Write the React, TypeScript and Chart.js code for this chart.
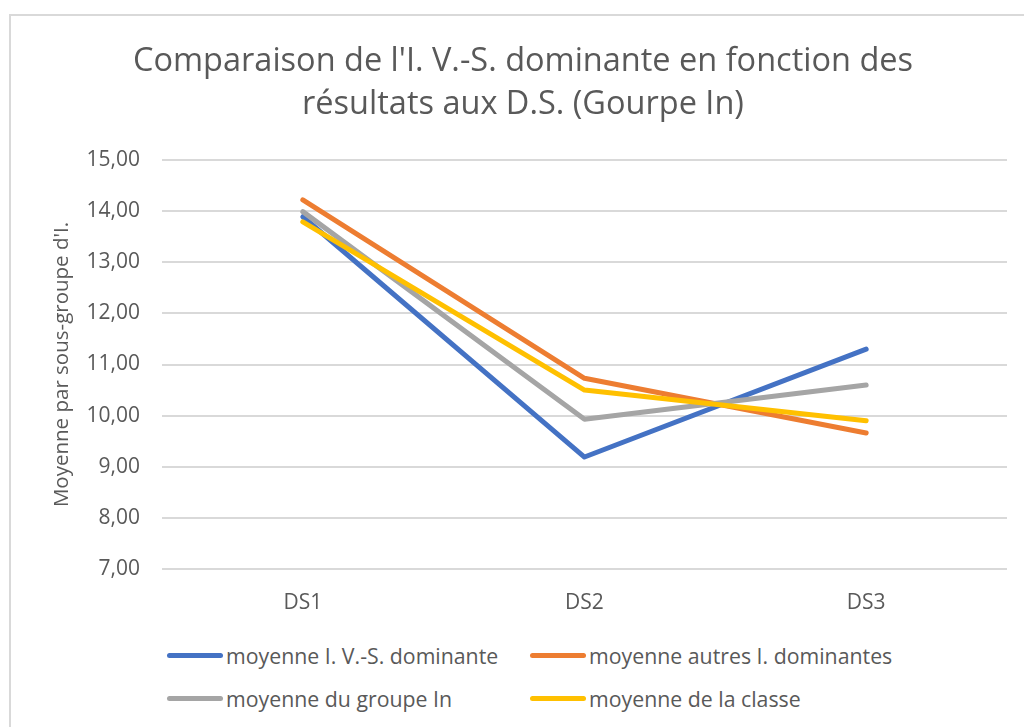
import React, { useEffect, useRef } from "react";
import { Chart, registerables } from "chart.js";

Chart.register(...registerables);

const categories = ["DS1", "DS2", "DS3"];
const seriesNames = [
  "moyenne I. V.-S. dominante",
  "moyenne autres I. dominantes",
  "moyenne du groupe In",
  "moyenne de la classe",
];
const blueValues = [13.89, 9.19, 11.3];
const orangeValues = [14.22, 10.73, 9.66];
const grayValues = [13.99, 9.93, 10.6];
const yellowValues = [13.79, 10.5, 9.9];
const seriesColors = ["#4472C4", "#ED7D31", "#A5A5A5", "#FFC000"];
const titleLines = [
  "Comparaison de l'I. V.-S. dominante en fonction des",
  "résultats aux D.S. (Gourpe In)",
];
const yAxisTitle = "Moyenne par sous-groupe d'I.";
const yMin = 7;
const yMax = 15;

const FONT = "'Open Sans', sans-serif";
const TEXT = "#595959";

export default function App() {
  const ref = useRef<HTMLCanvasElement | null>(null);

  useEffect(() => {
    if (!ref.current) return;
    const values = [blueValues, orangeValues, grayValues, yellowValues];
    const chart = new Chart(ref.current, {
      type: "line",
      data: {
        labels: categories,
        datasets: values.map((v, i) => ({
          label: seriesNames[i],
          data: v,
          borderColor: seriesColors[i],
          backgroundColor: seriesColors[i],
          borderWidth: 5,
          pointRadius: 0,
          tension: 0,
          borderCapStyle: "round" as const,
          borderJoinStyle: "round" as const,
          order: 4 - i,
        })),
      },
      options: {
        animation: false,
        responsive: false,
        layout: { padding: { left: 39, right: 17, top: 0, bottom: 0 } },
        plugins: {
          legend: { display: false },
          tooltip: { enabled: false },
          title: {
            display: true,
            text: titleLines,
            color: TEXT,
            font: { family: FONT, size: 32.5, weight: "normal", lineHeight: 1.32 },
            padding: { top: 40.5, bottom: 33.7 },
          },
        },
        scales: {
          x: {
            offset: true,
            grid: { display: false, drawTicks: false },
            border: { display: false },
            ticks: {
              color: TEXT,
              font: { family: FONT, size: 21 },
              padding: 21,
            },
            afterFit: (s: any) => {
              s.height = 61;
            },
          },
          y: {
            min: yMin,
            max: yMax,
            grid: { color: "#d9d9d9", lineWidth: 2, drawTicks: false },
            border: { display: false },
            ticks: {
              stepSize: 1,
              color: TEXT,
              font: { family: FONT, size: 21 },
              padding: 22,
              callback: (v: any) => Number(v).toFixed(2).replace(".", ","),
            },
            title: {
              display: true,
              text: yAxisTitle,
              color: TEXT,
              font: { family: FONT, size: 20.5 },
              padding: { top: 11, bottom: 0 },
            },
            afterFit: (s: any) => {
              s.width = 123;
            },
          },
        },
      },
    });
    return () => chart.destroy();
  }, []);

  const legendPos = [
    { x: 167, y: 655 },
    { x: 530, y: 655 },
    { x: 167, y: 698 },
    { x: 530, y: 698 },
  ];

  return (
    <div
      style={{
        position: "fixed",
        left: 0,
        top: 0,
        width: 1024,
        height: 727,
        overflow: "hidden",
        background: "#fff",
        fontFamily: FONT,
      }}
    >
      <div
        style={{
          position: "absolute",
          left: 9,
          top: 14,
          width: 1100,
          height: 800,
          border: "2px solid #d9d9d9",
          boxSizing: "border-box",
        }}
      />
      <canvas
        ref={ref}
        width={1024}
        height={630}
        style={{ position: "absolute", left: 0, top: 0, width: 1024, height: 630 }}
      />
      {seriesNames.map((name, i) => (
        <div
          key={name}
          style={{
            position: "absolute",
            left: legendPos[i].x,
            top: legendPos[i].y - 16,
            height: 32,
            display: "flex",
            alignItems: "center",
            whiteSpace: "nowrap",
          }}
        >
          <span
            style={{
              display: "inline-block",
              width: 56,
              height: 5,
              borderRadius: 3,
              background: seriesColors[i],
              marginRight: 3,
            }}
          />
          <span style={{ color: TEXT, fontSize: 21.3 }}>{name}</span>
        </div>
      ))}
    </div>
  );
}
